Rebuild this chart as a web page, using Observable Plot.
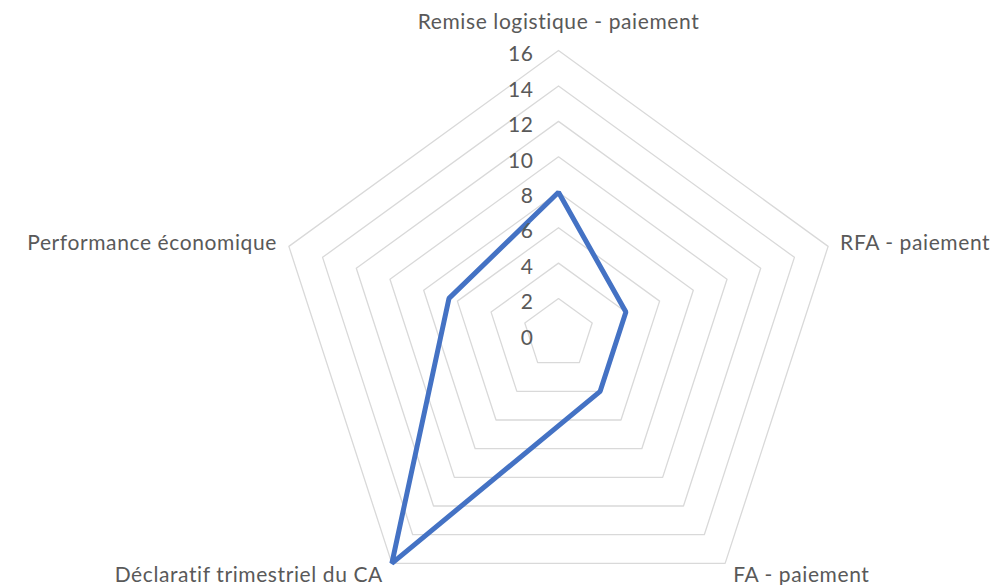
<!DOCTYPE html>
<html><head><meta charset="utf-8">
<script src="https://cdn.jsdelivr.net/npm/d3@7"></script>
<script src="https://cdn.jsdelivr.net/npm/@observablehq/plot@0.6"></script>
<style>body{margin:0;background:#fff;} #chart svg{display:block;}</style>
</head><body><div id="chart"></div>
<script>
// ---- data ----
const categories = ["Remise logistique - paiement", "RFA - paiement", "FA - paiement", "Déclaratif trimestriel du CA", "Performance économique"];
const values = [8, 4, 4, 16, 6.5];
const ticks = [0, 2, 4, 6, 8, 10, 12, 14, 16];
const rMax = 16;

// ---- geometry helpers (polar -> cartesian in data units) ----
const n = categories.length;
const ang = i => 2 * Math.PI * i / n;
const pt = (i, r) => ({x: r * Math.sin(ang(i)), y: r * Math.cos(ang(i))});

const W = 994, H = 585, cx = 558, cy = 333.5, R = 283.5;
const k = R / rMax;

const grid = ticks.filter(t => t > 0).flatMap(t => d3.range(n).map(i => ({level: t, ...pt(i, t)})));
const series = d3.range(n).map(i => ({cat: categories[i], v: values[i], ...pt(i, values[i])}));
const labels = categories.map((c, i) => ({name: c, i, ...pt(i, rMax)}));

const labelMark = (i, opts) => Plot.text(labels.filter(d => d.i === i), {x: "x", y: "y", text: "name", lineAnchor: "middle", ...opts});

const chart = Plot.plot({
  width: W, height: H,
  margin: 0,
  x: {domain: [-cx / k, (W - cx) / k], axis: null},
  y: {domain: [-(H - cy) / k, cy / k], axis: null},
  style: {fontFamily: "Lato, 'Open Sans', sans-serif", fontSize: "21px", letterSpacing: "0.6px", color: "#595959", background: "#fff"},
  marks: [
    Plot.line(grid, {x: "x", y: "y", z: "level", curve: "linear-closed", stroke: "#d9d9d9", strokeWidth: 1.3}),
    Plot.line(series, {x: "x", y: "y", curve: "linear-closed", stroke: "#4472C4", strokeWidth: 5, strokeLinejoin: "miter"}),
    Plot.text(ticks, {x: () => 0, y: d => d, text: d => String(d), textAnchor: "end", lineAnchor: "middle", dx: -25, dy: 4}),
    labelMark(0, {textAnchor: "middle", dy: -28}),
    labelMark(1, {textAnchor: "start", dx: 12, dy: -3}),
    labelMark(2, {textAnchor: "start", dx: 8, dy: 12}),
    labelMark(3, {textAnchor: "end", dx: -9, dy: 12}),
    labelMark(4, {textAnchor: "end", dx: -12, dy: -3})
  ]
});
document.getElementById("chart").append(chart);
</script>
</body></html>
